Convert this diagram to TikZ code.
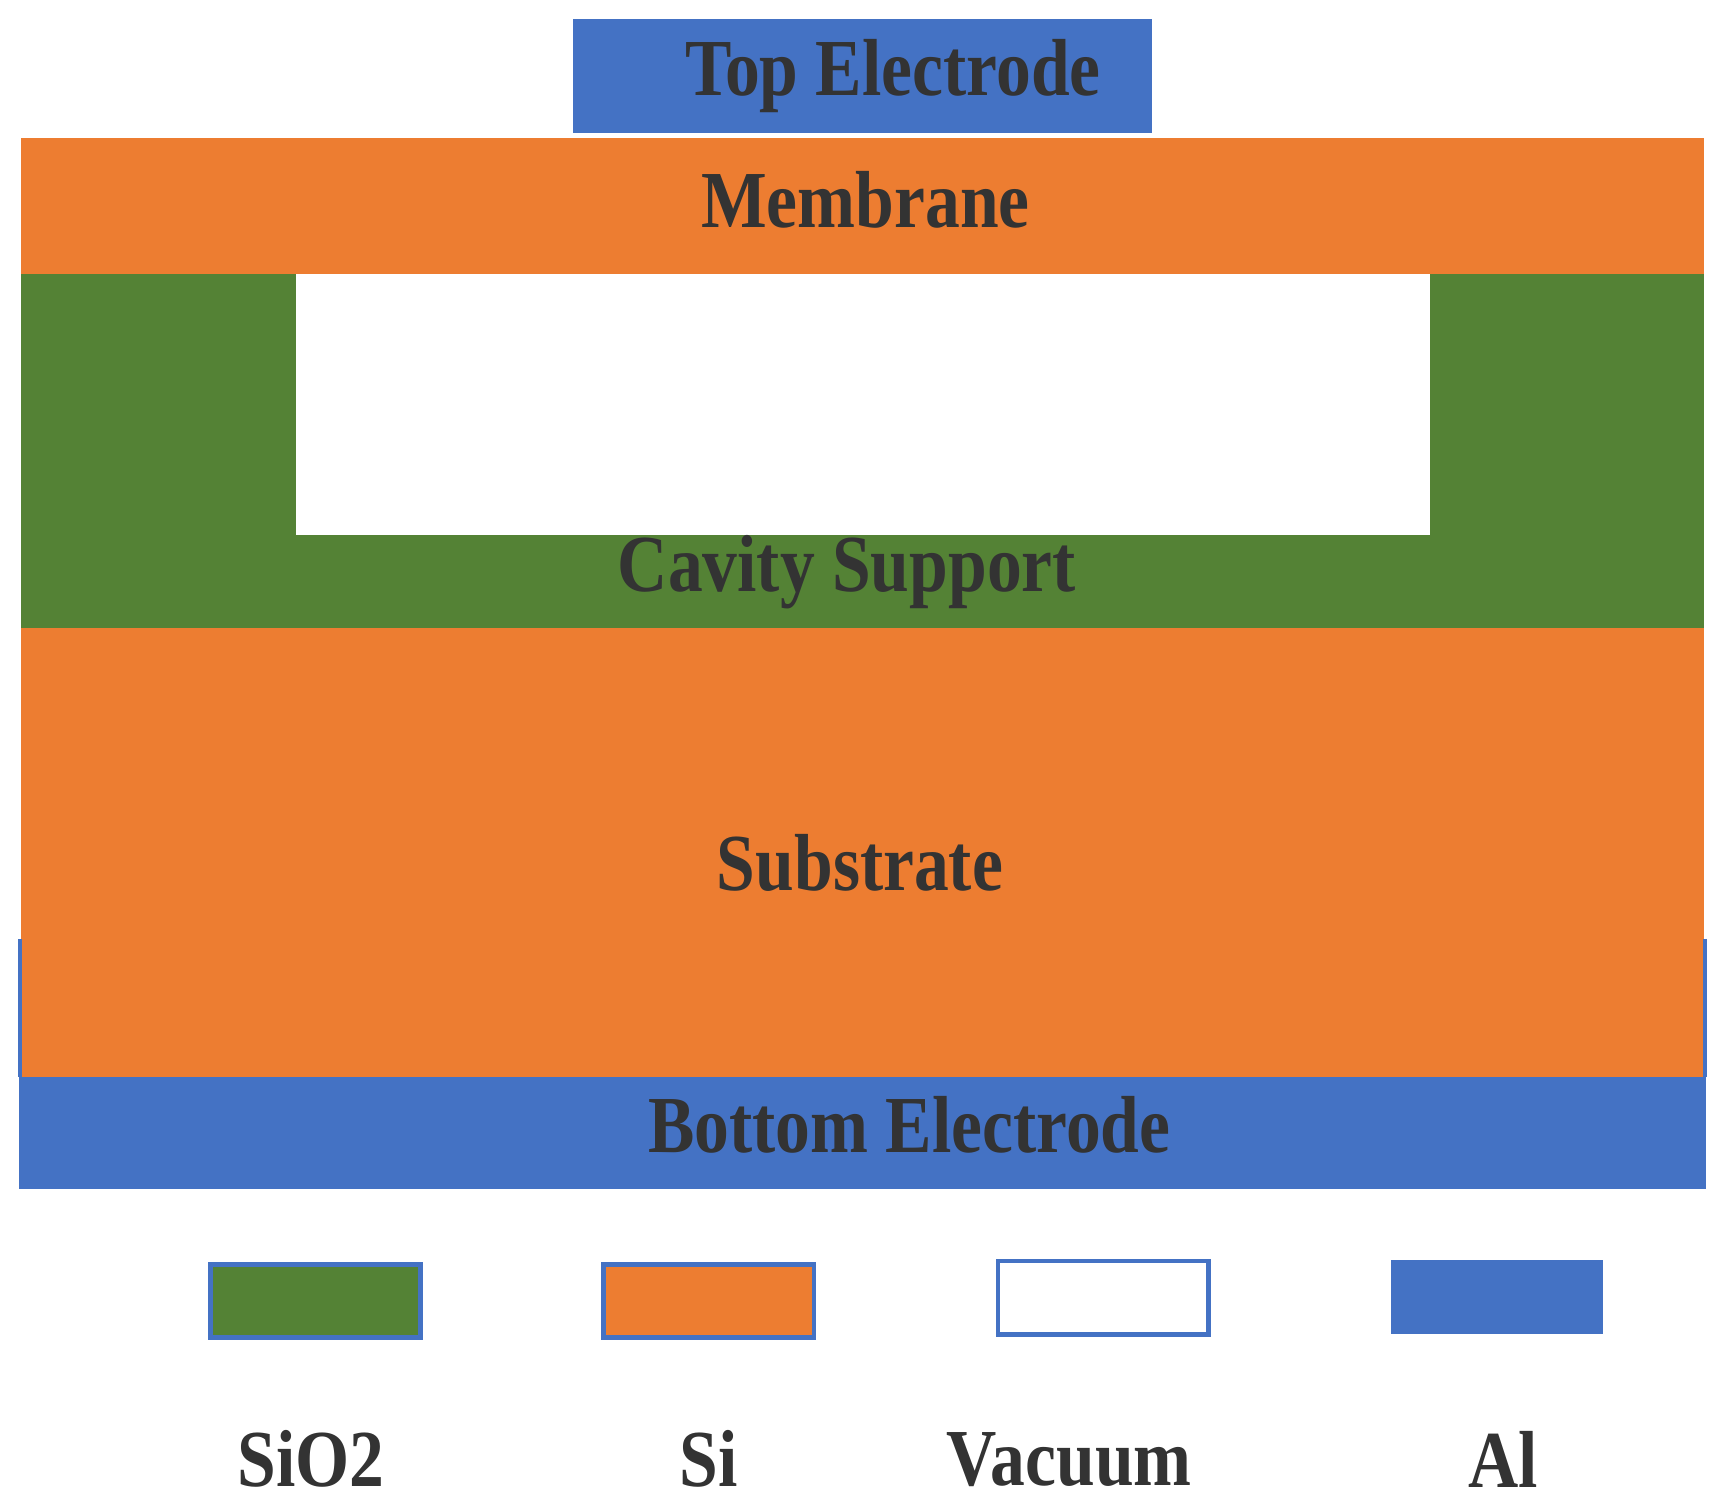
\documentclass[tikz,border=0pt]{standalone}
\usepackage{fontspec}
\setmainfont{Liberation Serif}
\usepackage{graphicx}
\definecolor{orng}{HTML}{ED7D31}
\definecolor{grn}{HTML}{548235}
\definecolor{blu}{HTML}{4472C4}
\definecolor{txt}{HTML}{333333}
\newcommand{\lbl}[1]{\scalebox{0.86}[1]{#1}}
\begin{document}
\begin{tikzpicture}[x=0.01cm,y=-0.01cm,
  t/.style={font=\fontsize{21}{24}\selectfont\bfseries,text=txt,inner sep=0pt,anchor=center},
  leg/.style={draw=blu,line width=1.2pt}]
\useasboundingbox (0,0) rectangle (1560,1370);
\fill[blu] (523,17) rectangle (1052,121);
\fill[orng] (19,126) rectangle (1555,250);
\fill[grn] (19,250) rectangle (1555,573);
\fill[white] (270,250) rectangle (1305,488);
\fill[orng] (19,573) rectangle (1555,983);
\draw[blu,line width=1pt] (18,857) -- (18,983) (1556,857) -- (1556,983);
\fill[blu] (17,983) rectangle (1557,1085);
\node[t] (top) at (815,69) {\lbl{Top Electrode}};
\node[t] (mem) at (790,182) {\lbl{Membrane}};
\node[t] (cav) at (773,522) {\lbl{Cavity Support}};
\node[t] (sub) at (785,788) {\lbl{Substrate}};
\node[t] (bot) at (830,1027) {\lbl{Bottom Electrode}};
\filldraw[leg,fill=grn] (192,1154) rectangle (384,1221);
\filldraw[leg,fill=orng] (551,1154) rectangle (743,1221);
\filldraw[leg,fill=white] (911,1151) rectangle (1103,1218);
\fill[blu] (1270,1150) rectangle (1463,1218);
\node[t] (l1) at (284,1332) {\lbl{SiO2}};
\node[t] (l2) at (647,1332) {\lbl{Si}};
\node[t] (l3) at (976,1332) {\lbl{Vacuum}};
\node[t] (l4) at (1372,1332) {\lbl{Al}};
\end{tikzpicture}
\end{document}
